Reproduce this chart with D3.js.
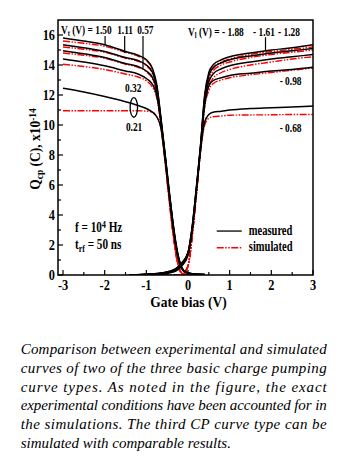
<!DOCTYPE html>
<html>
<head>
<meta charset="utf-8">
<script src="https://cdn.jsdelivr.net/npm/d3@7"></script>
<style>
  body { margin: 0; background: #fff; }
  svg { display: block; }
</style>
</head>
<body>
<div id="chart"></div>
<script>
// gate bias grids (V)
const xLeft = [-3, -2.5, -2, -1.5, -1.2, -1.0, -0.85, -0.75, -0.65, -0.55, -0.45, -0.35, -0.25, -0.15, -0.05, 0.1, 0.4]
const xRight = [-1.4, -1.0, -0.6, -0.3, -0.15, 0, 0.1, 0.2, 0.3, 0.4, 0.5, 0.6, 0.8, 1.0, 1.5, 2, 2.5, 3]

// V_t family, measured (x10^-14 C)
const measVt150 = [15.8, 15.6, 15.35, 14.9, 14.65, 14.35, 13.75, 12.7, 10.5, 8.1, 5.6, 3.3, 1.5, 0.5, 0.2, 0.08, 0.03]
const measVt111 = [15.35, 15.15, 14.9, 14.5, 14.3, 14.0, 13.5, 12.55, 10.4, 8.0, 5.5, 3.2, 1.45, 0.5, 0.2, 0.08, 0.03]
const measVt057 = [14.95, 14.75, 14.5, 14.1, 13.9, 13.6, 13.15, 12.35, 10.3, 7.95, 5.45, 3.15, 1.4, 0.45, 0.18, 0.07, 0.03]
const measVt032 = [14.4, 14.2, 13.95, 13.6, 13.4, 13.1, 12.7, 12.0, 10.2, 7.9, 5.4, 3.1, 1.35, 0.45, 0.18, 0.07, 0.03]
const measVt021 = [12.45, 12.2, 11.9, 11.55, 11.3, 11.1, 10.85, 10.55, 9.8, 7.7, 5.3, 3.0, 1.3, 0.4, 0.15, 0.06, 0.02]
// V_t family, simulated
const simVt150 = [15.6, 15.45, 15.25, 14.85, 14.6, 14.3, 13.65, 12.5, 10.3, 7.8, 5.2, 2.7, 0.9, 0.15, 0.02, 0, 0]
const simVt111 = [15.2, 15.05, 14.85, 14.45, 14.25, 13.95, 13.4, 12.35, 10.2, 7.7, 5.1, 2.65, 0.85, 0.12, 0.02, 0, 0]
const simVt057 = [14.8, 14.65, 14.45, 14.05, 13.85, 13.55, 13.05, 12.1, 10.1, 7.65, 5.05, 2.6, 0.85, 0.12, 0.02, 0, 0]
const simVt032 = [14.05, 13.9, 13.7, 13.4, 13.2, 12.95, 12.5, 11.8, 10.0, 7.6, 5.0, 2.6, 0.8, 0.1, 0.02, 0, 0]
const simVt021 = [10.95, 10.95, 10.95, 10.95, 10.95, 10.92, 10.85, 10.55, 9.8, 7.5, 4.9, 2.5, 0.8, 0.1, 0.02, 0, 0]

// V_l family, measured
const measVl188 = [0, 0.05, 0.15, 0.4, 0.8, 1.5, 3.2, 5.8, 8.6, 12.0, 13.5, 14.0, 14.35, 14.55, 14.8, 15.0, 15.15, 15.35]
const measVl161 = [0, 0.05, 0.15, 0.4, 0.8, 1.5, 3.2, 5.8, 8.6, 11.9, 13.3, 13.8, 14.15, 14.35, 14.6, 14.8, 14.95, 15.1]
const measVl128 = [0, 0.05, 0.12, 0.35, 0.75, 1.45, 3.1, 5.7, 8.5, 11.7, 12.9, 13.4, 13.75, 13.95, 14.2, 14.4, 14.55, 14.7]
const measVl098 = [0, 0.04, 0.1, 0.3, 0.7, 1.4, 3.0, 5.6, 8.4, 11.3, 12.6, 12.95, 13.15, 13.3, 13.45, 13.6, 13.7, 13.85]
const measVl068 = [0, 0.03, 0.08, 0.25, 0.6, 1.3, 2.9, 5.5, 8.3, 10.2, 10.7, 10.85, 10.92, 11.0, 11.1, 11.15, 11.2, 11.27]
// V_l family, simulated
const simVl188 = [0, 0, 0, 0, 0.02, 0.6, 2.6, 5.4, 8.4, 11.6, 13.2, 13.8, 14.2, 14.4, 14.7, 14.9, 15.05, 15.2]
const simVl161 = [0, 0, 0, 0, 0.02, 0.6, 2.6, 5.4, 8.4, 11.5, 13.0, 13.6, 14.0, 14.2, 14.5, 14.7, 14.85, 15.0]
const simVl128 = [0, 0, 0, 0, 0.02, 0.6, 2.6, 5.4, 8.4, 11.4, 12.6, 13.1, 13.5, 13.7, 14.0, 14.2, 14.4, 14.55]
const simVl098 = [0, 0, 0, 0, 0.02, 0.6, 2.6, 5.4, 8.3, 11.2, 12.3, 12.75, 13.0, 13.15, 13.35, 13.5, 13.65, 13.8]
const simVl068 = [0, 0, 0, 0, 0.02, 0.6, 2.6, 5.3, 8.2, 10.0, 10.45, 10.55, 10.6, 10.65, 10.67, 10.68, 10.7, 10.7]

const xTicks = [-3, -2, -1, 0, 1, 2, 3]
const yTicks = [0, 2, 4, 6, 8, 10, 12, 14, 16]

const captionLines = [
  "Comparison between experimental and simulated",
  "curves of two of the three basic charge pumping",
  "curve types. As noted in the figure, the exact",
  "experimental conditions have been accounted for in",
  "the simulations. The third CP curve type can be",
  "simulated with comparable results."
]

const width = 339
const height = 463
const plot = {left: 58, right: 313, top: 20, bottom: 275}

const svg = d3.select("#chart").append("svg")
  .attr("width", width)
  .attr("height", height)

const xScale = d3.scaleLinear().domain([-3.12, 3]).range([plot.left, plot.right])
const yScale = d3.scaleLinear().domain([0, 17]).range([plot.bottom, plot.top])

svg.append("defs").append("clipPath").attr("id", "plotClip")
  .append("rect")
  .attr("x", plot.left).attr("y", plot.top)
  .attr("width", plot.right - plot.left).attr("height", plot.bottom - plot.top)

const serif = "'Liberation Serif', 'Times New Roman', serif"

// text helper: parts = [[str, 'sub'|'sup'|null], ...]
function label(parent, x, y, parts, size, sx, anchor, rotate) {
  const g = parent.append("g")
    .attr("transform", `translate(${x},${y})` + (rotate ? ` rotate(${rotate})` : "") + ` scale(${sx},1)`)
  const t = g.append("text")
    .attr("font-family", serif)
    .attr("font-weight", "bold")
    .attr("font-size", size)
    .attr("text-anchor", anchor || "start")
    .attr("fill", "#000")
  parts.forEach(p => {
    const s = t.append("tspan").text(p[0])
    if (p[1] == "sub") s.attr("font-size", size * 0.7).attr("baseline-shift", "-30%")
    else if (p[1] == "sup") s.attr("font-size", size * 0.7).attr("baseline-shift", "45%")
  })
  return t
}

// curves
const line = d3.line()
  .x(d => xScale(d[0]))
  .y(d => yScale(d[1]))
  .curve(d3.curveMonotoneX)

const series = [
  {xs: xLeft, ys: simVt150, sim: true}, {xs: xLeft, ys: simVt111, sim: true},
  {xs: xLeft, ys: simVt057, sim: true}, {xs: xLeft, ys: simVt032, sim: true},
  {xs: xLeft, ys: simVt021, sim: true},
  {xs: xRight, ys: simVl188, sim: true}, {xs: xRight, ys: simVl161, sim: true},
  {xs: xRight, ys: simVl128, sim: true}, {xs: xRight, ys: simVl098, sim: true},
  {xs: xRight, ys: simVl068, sim: true},
  {xs: xLeft, ys: measVt150}, {xs: xLeft, ys: measVt111}, {xs: xLeft, ys: measVt057},
  {xs: xLeft, ys: measVt032}, {xs: xLeft, ys: measVt021},
  {xs: xRight, ys: measVl188}, {xs: xRight, ys: measVl161}, {xs: xRight, ys: measVl128},
  {xs: xRight, ys: measVl098}, {xs: xRight, ys: measVl068}
]

const curves = svg.append("g").attr("clip-path", "url(#plotClip)")
curves.selectAll("path")
  .data(series)
  .enter()
  .append("path")
  .attr("d", d => line(d.xs.map((x, i) => [x, d.ys[i]])))
  .attr("fill", "none")
  .attr("stroke", d => d.sim ? "#ff0000" : "#000")
  .attr("stroke-width", d => d.sim ? 1.4 : 1.5)
  .attr("stroke-dasharray", d => d.sim ? "7,1.5,1.5,1.5,1.5,1.5" : null)

// frame
svg.append("rect")
  .attr("x", plot.left).attr("y", plot.top)
  .attr("width", plot.right - plot.left).attr("height", plot.bottom - plot.top)
  .attr("fill", "none").attr("stroke", "#000").attr("stroke-width", 1.5)

// ticks, inward
const axes = svg.append("g").attr("stroke", "#000").attr("stroke-width", 1.2)
d3.range(-3, 3.01, 0.5).forEach(v => {
  const major = Math.abs(v - Math.round(v)) < 1e-6
  axes.append("line")
    .attr("x1", xScale(v)).attr("x2", xScale(v))
    .attr("y1", plot.bottom).attr("y2", plot.bottom - (major ? 5 : 3))
})
d3.range(0, 17, 1).forEach(v => {
  axes.append("line")
    .attr("x1", plot.left).attr("x2", plot.left + (v % 2 == 0 ? 5 : 3))
    .attr("y1", yScale(v)).attr("y2", yScale(v))
})

xTicks.forEach(v => {
  label(svg, xScale(v), plot.bottom + 15, [[v < 0 ? "-" + Math.abs(v) : String(v)]], 14.5, 0.85, "middle")
})
yTicks.forEach(v => {
  label(svg, plot.left - 3, yScale(v) + 5, [[String(v)]], 14.5, 0.85, "end")
})

// axis titles
label(svg, (plot.left + plot.right) / 2 + 3, 307, [["Gate bias (V)"]], 15, 0.9, "middle")
label(svg, 40, 149, [["Q"], ["cp", "sub"], [" (C), x10"], ["-14", "sup"]], 15, 0.9, "middle", -90)

// annotations
const ann = svg.append("g")
const aSize = 12.5, aSx = 0.75
label(ann, xScale(-3.05), yScale(16.07), [["V"], ["t", "sub"], [" (V) = 1.50"]], aSize, aSx)
label(ann, xScale(-1.7), yScale(16.07), [["1.11"]], aSize, aSx)
label(ann, xScale(-1.22), yScale(16.07), [["0.57"]], aSize, aSx)
label(ann, xScale(-1.51), yScale(12.2), [["0.32"]], aSize, aSx)
label(ann, xScale(-1.49), yScale(9.6), [["0.21"]], aSize, aSx)
label(ann, xScale(0), yScale(15.93), [["V"], ["l", "sub"], [" (V) = - 1.88"]], aSize, aSx)
label(ann, xScale(1.56), yScale(15.93), [["- 1.61"]], aSize, aSx)
label(ann, xScale(2.16), yScale(15.93), [["- 1.28"]], aSize, aSx)
label(ann, xScale(2.2), yScale(12.67), [["- 0.98"]], aSize, aSx)
label(ann, xScale(2.2), yScale(9.53), [["- 0.68"]], aSize, aSx)

const pointers = [[-1.99, 15.93, 15.33], [-1.52, 15.93, 14.8], [-1.08, 15.93, 13.8], [1.86, 15.85, 15.0]]
ann.selectAll(".pointer")
  .data(pointers)
  .enter()
  .append("line")
  .attr("class", "pointer")
  .attr("x1", d => xScale(d[0])).attr("x2", d => xScale(d[0]))
  .attr("y1", d => yScale(d[1])).attr("y2", d => yScale(d[2]))
  .attr("stroke", "#000").attr("stroke-width", 1.2)

ann.append("ellipse")
  .attr("cx", xScale(-1.3)).attr("cy", yScale(11.17))
  .attr("rx", 3.7).attr("ry", 9.8)
  .attr("fill", "none").attr("stroke", "#000").attr("stroke-width", 1.3)

label(ann, xScale(-2.71), yScale(2.87), [["f = 10"], ["4", "sup"], [" Hz"]], 14, 0.8)
label(ann, xScale(-2.71), yScale(1.73), [["t"], ["rf", "sub"], [" = 50 ns"]], 14, 0.8)

// legend
const legend = svg.append("g")
legend.append("line")
  .attr("x1", xScale(0.69)).attr("x2", xScale(1.29))
  .attr("y1", yScale(2.93)).attr("y2", yScale(2.93))
  .attr("stroke", "#000").attr("stroke-width", 1.3)
legend.append("line")
  .attr("x1", xScale(0.69)).attr("x2", xScale(1.29))
  .attr("y1", yScale(1.82)).attr("y2", yScale(1.82))
  .attr("stroke", "#ff0000").attr("stroke-width", 1.4)
  .attr("stroke-dasharray", "7,1.5,1.5,1.5,1.5,1.5")
label(legend, xScale(1.46), yScale(2.67), [["measured"]], 14, 0.75)
label(legend, xScale(1.46), yScale(1.57), [["simulated"]], 14, 0.75)

// caption, justified lines
const caption = svg.append("g")
  .attr("font-family", serif)
  .attr("font-style", "italic")
  .attr("font-size", 15)
  .attr("fill", "#000")
captionLines.forEach((s, i) => {
  const t = caption.append("text")
    .attr("x", 20.7)
    .attr("y", 354 + i * 18.8)
    .text(s)
  if (i < captionLines.length - 1) t.attr("textLength", 306).attr("lengthAdjust", "spacing")
})
</script>
</body>
</html>
